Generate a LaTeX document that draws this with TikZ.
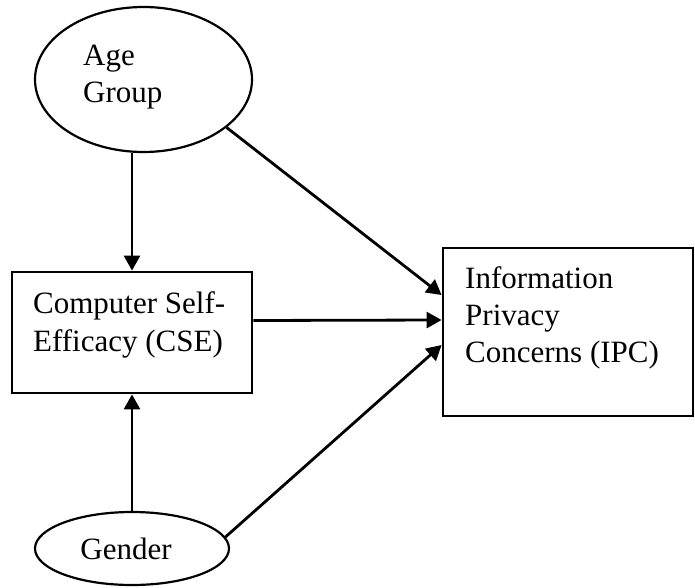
\documentclass[tikz,border=0pt]{standalone}
\usepackage{fontspec}
\setmainfont{Liberation Serif}
\usetikzlibrary{shapes.geometric,arrows.meta}
\begin{document}
\begin{tikzpicture}[x=1pt,y=-1pt,
  oval/.style={draw,ellipse,line width=2.2pt,inner sep=0pt},
  box/.style={draw,rectangle,line width=2.8pt,inner sep=0pt},
  lbl/.style={anchor=base west,inner sep=0pt,font=\fontsize{31}{37}\selectfont},
  link/.style={line width=2.8pt,-{Triangle[length=15pt,width=16pt]}}]
\useasboundingbox (0,0) rectangle (695,588);
\node[oval,minimum width=217pt,minimum height=145pt] (age) at (143.5,79.5) {};
\node[box,minimum width=240pt,minimum height=121pt] (cse) at (132,332.5) {};
\node[box,minimum width=250pt,minimum height=168pt] (ipc) at (568,332) {};
\node[oval,minimum width=194pt,minimum height=73pt] (gender) at (132,548.5) {};
\node[lbl] (agea) at (83,66) {Age};
\node[lbl] (ageb) at (83,103) {Group};
\node[lbl] (csea) at (33,313) {Computer Self-};
\node[lbl] (cseb) at (33,351) {Efficacy (CSE)};
\node[lbl] (ipca) at (465,288) {Information};
\node[lbl] (ipcb) at (465,325) {Privacy};
\node[lbl] (ipcc) at (465,362) {Concerns (IPC)};
\node[anchor=base,inner sep=0pt,font=\fontsize{31}{37}\selectfont] (gtext) at (126,559) {Gender};
\draw[link] (cse.north |- age.south) -- (cse.north);
\draw[link] (cse.south |- gender.north) -- (cse.south);
\draw[link] (age.-30) -- ([yshift=37pt]ipc.west);
\draw[link] ([yshift=12pt]cse.east) -- ([yshift=12pt]ipc.west);
\draw[link] (gender.7) -- ([yshift=-13pt]ipc.west);
\end{tikzpicture}
\end{document}
